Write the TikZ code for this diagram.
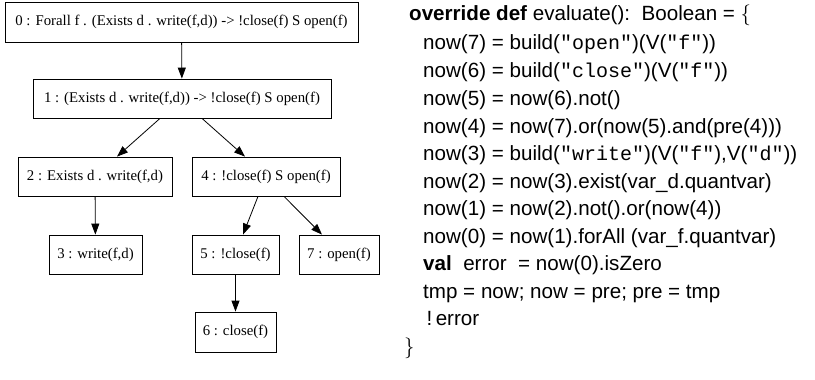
\documentclass[tikz,border=0pt]{standalone}
\usepackage{fontspec}
\setmainfont{Liberation Serif}
\setsansfont{Liberation Sans}
\setmonofont{Liberation Mono}
\usetikzlibrary{arrows.meta}
\tikzset{
  tree/.style={draw, line width=0.8pt, inner sep=0pt, font=\fontsize{14.8}{17}\selectfont},
  edge/.style={line width=0.8pt, -{Triangle[length=11pt,width=8pt]}},
  code/.style={anchor=base west, inner sep=0pt, font=\sffamily\fontsize{20.6}{24}\selectfont},
}
\newcommand{\str}[1]{{\ttfamily\fontsize{20}{24}\selectfont #1}}
\begin{document}
\begin{tikzpicture}[x=1pt,y=-1pt]
\useasboundingbox (0,0) rectangle (815,380);
% expression tree
\node[tree, minimum width=353pt, minimum height=40pt] (n0) at (181.5,22) {0 : Forall f . (Exists d . write(f,d)) -> !close(f) S open(f)};
\node[tree, minimum width=298pt, minimum height=39pt] (n1) at (182,98.5) {1 : (Exists d . write(f,d)) -> !close(f) S open(f)};
\node[tree, minimum width=154pt, minimum height=39pt] (n2) at (95,176.5) {2 : Exists d . write(f,d)};
\node[tree, minimum width=148pt, minimum height=39pt] (n4) at (266,176.5) {4 : !close(f) S open(f)};
\node[tree, minimum width=93pt, minimum height=39pt] (n3) at (95.5,254.5) {3 : write(f,d)};
\node[tree, minimum width=87pt, minimum height=39pt] (n5) at (235.5,254.5) {5 : !close(f)};
\node[tree, minimum width=80pt, minimum height=39pt] (n7) at (339,254.5) {7 : open(f)};
\node[tree, minimum width=81pt, minimum height=40pt] (n6) at (235.5,332) {6 : close(f)};
\draw[edge] (n0) -- (n1);
\draw[edge] (n1.south -| 160,0) -- (n2.north -| 117,0);
\draw[edge] (n1.south -| 202,0) -- (n4.north -| 245,0);
\draw[edge] (n2) -- (n3);
\draw[edge] (n4.south -| 258,0) -- (n5.north -| 243,0);
\draw[edge] (n4.south -| 284,0) -- (n7.north -| 322,0);
\draw[edge] (n5) -- (n6);
% generated evaluation code
\node[code] (c0) at (409,20.5) {\textbf{override def} evaluate():\ \ Boolean = $\{$};
\node[code] (c1) at (423,49.5) {now(7) = build(\str{"open"})(V(\str{"f"}))};
\node[code] (c2) at (423,77) {now(6) = build(\str{"close"})(V(\str{"f"}))};
\node[code] (c3) at (423,105) {now(5) = now(6).not()};
\node[code] (c4) at (423,133) {now(4) = now(7).or(now(5).and(pre(4)))};
\node[code] (c5) at (423,160.5) {now(3) = build(\str{"write"})(V(\str{"f"}),V(\str{"d"}))};
\node[code] (c6) at (423,188) {now(2) = now(3).exist(var\_d.quantvar)};
\node[code] (c7) at (423,215.5) {now(1) = now(2).not().or(now(4))};
\node[code] (c8) at (423,243) {now(0) = now(1).forAll (var\_f.quantvar)};
\node[code] (c9) at (423,270.5) {\textbf{val}\ \ error\ \ = now(0).isZero};
\node[code] (c10) at (423,298) {tmp = now; now = pre; pre = tmp};
\node[code] (c11) at (423,325.5) {\,!\,error};
\node[code] (c12) at (404,353) {$\}$};
\end{tikzpicture}
\end{document}
